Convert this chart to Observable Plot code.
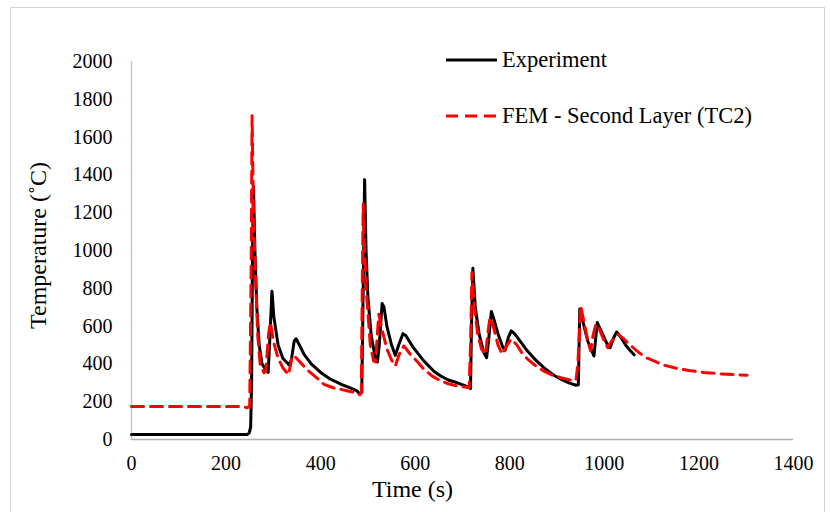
<!DOCTYPE html>
<html>
<head>
<meta charset="utf-8">
<script src="https://cdn.jsdelivr.net/npm/d3@7"></script>
<script src="https://cdn.jsdelivr.net/npm/@observablehq/plot@0.6"></script>
<style>
  html, body { margin: 0; padding: 0; background: #fff; }
  #wrap { position: relative; width: 830px; height: 512px; overflow: hidden; background: #fff; }
  #frame { position: absolute; left: 10px; top: 7px; width: 815px; height: 520px; border: 1.5px solid #d4d4d4; box-sizing: border-box; }
  #chart { position: absolute; left: 0; top: 0; }
  .leg { position: absolute; left: 445px; display: flex; align-items: center; height: 22px;
         font-family: "Liberation Serif", "Times New Roman", serif; font-size: 22.5px; line-height: 22px; color: #000; white-space: nowrap; }
  .leg svg { margin-right: 5px; }
</style>
</head>
<body>
<div id="wrap">
  <div id="frame"></div>
  <div id="chart"></div>
  <div class="leg" id="leg1"></div>
  <div class="leg" id="leg2"></div>
</div>
<script>
// ---- data ----
const seriesNames = ["Experiment", "FEM - Second Layer (TC2)"];
const xTicks = [0, 200, 400, 600, 800, 1000, 1200, 1400];
const yTicks = [0, 200, 400, 600, 800, 1000, 1200, 1400, 1600, 1800, 2000];
const xLabel = "Time (s)";
const yLabel = "Temperature (˚C)";

// Experiment: time (s)
const expTime = [0, 100, 200, 245, 249, 252, 254, 256, 258, 261, 265, 270, 276, 284, 289, 292, 297, 301, 310, 320, 333, 338, 344, 348, 355, 365, 380, 400, 420, 445, 465, 477, 483, 487, 490, 493, 496, 500, 507, 515, 520, 524, 530, 534, 540, 550, 558, 565, 574, 580, 595, 618, 640, 654, 670, 689, 705, 717, 719, 722, 727, 735, 745, 751, 755, 761, 766, 775, 785, 790, 797, 803, 810, 825, 837, 855, 872, 890, 908, 925, 940, 945, 948, 955, 965, 978, 985, 992, 1005, 1012, 1020, 1026, 1035, 1045, 1055, 1063];
// Experiment: temperature (°C)
const expTemp = [27, 27, 27, 27, 35, 65, 300, 1000, 1340, 1000, 700, 500, 400, 370, 355, 500, 785, 650, 500, 430, 395, 420, 520, 533, 500, 450, 400, 355, 320, 290, 270, 257, 240, 250, 800, 1375, 1000, 750, 550, 440, 410, 500, 720, 700, 600, 500, 445, 500, 560, 550, 490, 416, 360, 336, 315, 300, 285, 270, 600, 906, 700, 560, 460, 433, 520, 677, 640, 560, 490, 472, 540, 575, 560, 510, 469, 420, 380, 345, 319, 300, 287, 290, 690, 620, 520, 442, 619, 580, 510, 486, 540, 569, 540, 500, 470, 448];

// FEM: time (s)
const femTime = [0, 100, 200, 235, 245, 250, 253, 255, 258, 262, 267, 272, 280, 284, 290, 294, 300, 310, 320, 332, 336, 340, 345, 360, 371, 390, 407, 425, 442, 460, 477, 483, 486, 488, 490, 493, 497, 505, 512, 516, 520, 523, 528, 540, 550, 558, 566, 576, 590, 605, 618, 636, 654, 670, 689, 708, 714, 717, 720, 725, 732, 740, 749, 753, 758, 765, 775, 784, 792, 803, 815, 825, 837, 855, 872, 890, 908, 925, 936, 940, 944, 950, 957, 965, 971, 976, 982, 990, 1000, 1007, 1015, 1028, 1040, 1049, 1068, 1087, 1105, 1123, 1150, 1179, 1210, 1246, 1275, 1302];
// FEM: temperature (°C)
const femTemp = [174, 174, 174, 174, 168, 175, 900, 1713, 1200, 876, 550, 400, 354, 360, 560, 620, 520, 430, 380, 343, 390, 442, 440, 400, 370, 330, 292, 275, 266, 255, 248, 236, 250, 800, 1246, 1000, 771, 500, 416, 410, 560, 663, 600, 480, 420, 389, 450, 495, 450, 410, 372, 335, 310, 295, 283, 276, 274, 500, 884, 700, 560, 480, 451, 550, 645, 600, 500, 451, 490, 531, 500, 460, 427, 390, 362, 340, 327, 316, 310, 315, 400, 707, 620, 520, 469, 550, 610, 580, 520, 486, 520, 557, 535, 513, 470, 434, 416, 395, 378, 365, 355, 347, 343, 340];

const expData = expTime.map((t, i) => ({t, T: expTemp[i]}));
const femData = femTime.map((t, i) => ({t, T: femTemp[i]}));

const serif = "'Liberation Serif', 'Times New Roman', serif";
const red = "#ff0000";

const chart = Plot.plot({
  width: 830,
  height: 512,
  marginLeft: 131,
  marginRight: 37,
  marginTop: 61,
  marginBottom: 73,
  style: {fontFamily: serif, fontSize: "20px", background: "transparent", color: "#000", overflow: "visible"},
  x: {domain: [0, 1400]},
  y: {domain: [0, 2000]},
  marks: [
    Plot.ruleX([0], {stroke: "#c8c8c8", strokeWidth: 1.5}),
    Plot.ruleY([0], {stroke: "#b0b0b0", strokeWidth: 1.5}),
    Plot.axisX({ticks: xTicks, tickSize: 0, tickPadding: 16, tickFormat: d => String(d), label: null, fontSize: 20, fill: "#000"}),
    Plot.axisY({ticks: yTicks, tickSize: 0, tickPadding: 19, tickFormat: d => String(d), label: null, fontSize: 20, fill: "#000"}),
    Plot.text([xLabel], {text: d => d, frameAnchor: "bottom", textAnchor: "middle", lineAnchor: "middle", dx: -50, dy: 50, fontSize: 24, fill: "#000"}),
    Plot.text([yLabel], {text: d => d, frameAnchor: "left", textAnchor: "middle", lineAnchor: "middle", rotate: -90, dx: -93, dy: -5, fontSize: 24, fill: "#000"}),
    Plot.line(expData, {x: "t", y: "T", stroke: "#000", strokeWidth: 3, strokeLinejoin: "round"}),
    Plot.line(femData, {x: "t", y: "T", stroke: red, strokeWidth: 3, strokeDasharray: "12,7", strokeLinejoin: "round"})
  ]
});
document.getElementById("chart").appendChild(chart);

// legend
function legendRow(el, name, color, dash, top) {
  el.style.top = top + "px";
  const ns = "http://www.w3.org/2000/svg";
  const svg = document.createElementNS(ns, "svg");
  svg.setAttribute("width", 52);
  svg.setAttribute("height", 10);
  const ln = document.createElementNS(ns, "line");
  ln.setAttribute("x1", 1); ln.setAttribute("x2", 52);
  ln.setAttribute("y1", 5); ln.setAttribute("y2", 5);
  ln.setAttribute("stroke", color);
  ln.setAttribute("stroke-width", 3);
  if (dash) ln.setAttribute("stroke-dasharray", dash);
  svg.appendChild(ln);
  el.appendChild(svg);
  const sp = document.createElement("span");
  sp.textContent = name;
  el.appendChild(sp);
}
legendRow(document.getElementById("leg1"), seriesNames[0], "#000", null, 49);
legendRow(document.getElementById("leg2"), seriesNames[1], red, "12,7", 105);
</script>
</body>
</html>
